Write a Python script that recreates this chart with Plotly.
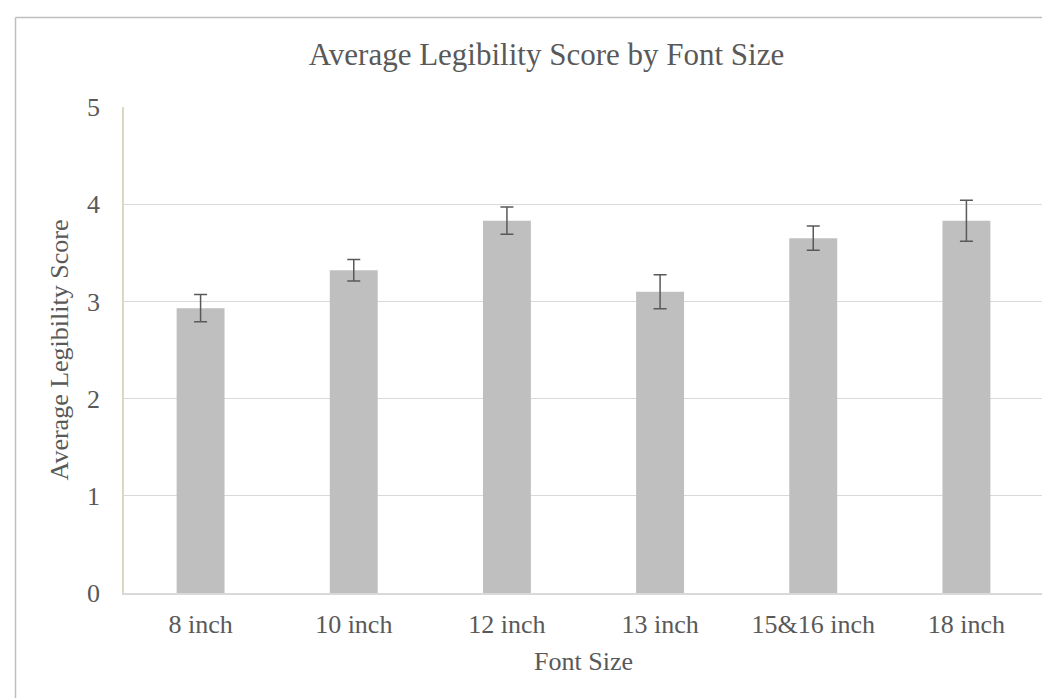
import plotly.graph_objects as go

categories = ["8 inch", "10 inch", "12 inch", "13 inch", "15&16 inch", "18 inch"]
avg_scores = [2.93, 3.32, 3.83, 3.10, 3.65, 3.83]
errors = [0.14, 0.11, 0.14, 0.175, 0.125, 0.21]
y_ticks = [0, 1, 2, 3, 4, 5]

W, H = 1050, 698
L, R, T, B = 116, 1035, 98.5, 585
pw, ph = R - L, B - T
FONT = "Liberation Serif, Times New Roman, serif"
TXT = "#595959"

fig = go.Figure()
fig.add_trace(go.Bar(
    x=categories, y=avg_scores,
    marker=dict(color="#bfbfbf", line=dict(width=0)),
    error_y=dict(type="data", array=errors, visible=True,
                 color="#595959", thickness=1.5, width=6.5),
    hoverinfo="x+y",
))

def px_x(v):
    return (v - L) / pw

def px_y(v):
    return (B - v) / ph

fig.update_layout(
    width=W, height=H,
    margin=dict(l=L, r=W - R, t=T, b=H - B, pad=0),
    paper_bgcolor="white", plot_bgcolor="white",
    bargap=0.687,
    showlegend=False,
    font=dict(family=FONT, color=TXT, size=26),
    title=dict(text="Average Legibility Score by Font Size",
               font=dict(family=FONT, size=31, color=TXT),
               x=538.5 / W, xref="container", xanchor="center",
               y=1 - 46 / H, yref="container", yanchor="middle"),
    xaxis=dict(
        showgrid=False, showline=True, linecolor="#d9d9d9", linewidth=1.5,
        ticks="", tickfont=dict(size=26, family=FONT, color=TXT),
        ticklabelstandoff=7,
        title=dict(text="Font Size", font=dict(size=26, family=FONT, color=TXT), standoff=14),
    ),
    yaxis=dict(
        range=[0, 5], tickvals=y_ticks, ticktext=[str(v) for v in y_ticks],
        showgrid=True, gridcolor="#d9d9d9", gridwidth=1.2,
        zeroline=False, showline=True, linecolor="#ddd8c4", linewidth=1.5,
        ticks="", tickfont=dict(size=26, family=FONT, color=TXT),
        ticklabelstandoff=17,
        title=dict(text="Average Legibility Score", font=dict(size=26, family=FONT, color=TXT), standoff=11),
    ),
    shapes=[
        dict(type="line", xref="paper", yref="paper",
             x0=px_x(7.5), x1=px_x(W + 20), y0=px_y(9), y1=px_y(9),
             line=dict(color="#bfbfbf", width=1.5), layer="above"),
        dict(type="line", xref="paper", yref="paper",
             x0=px_x(7.5), x1=px_x(7.5), y0=px_y(9), y1=px_y(H + 20),
             line=dict(color="#bfbfbf", width=1.5), layer="above"),
    ],
)

fig.write_html("out.html")
